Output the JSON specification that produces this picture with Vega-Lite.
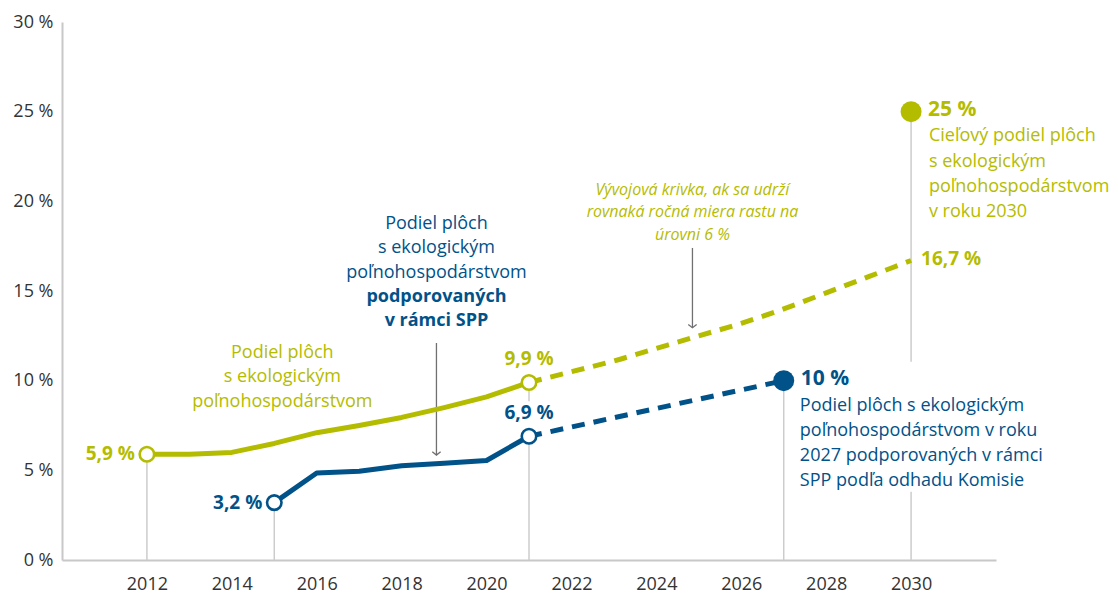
{
  "$schema": "https://vega.github.io/schema/vega-lite/v6.json",
  "width": 934,
  "height": 538,
  "autosize": "none",
  "padding": {"left": 62, "top": 22, "right": 122, "bottom": 36},
  "background": "white",
  "config": {"view": {"stroke": null}, "font": "Open Sans", "text": {"font": "Open Sans"}},
  "datasets": {
    "series": [
      {"series": "eko", "phase": "actual", "year": 2012, "value": 5.9},
      {"series": "eko", "phase": "actual", "year": 2013, "value": 5.9},
      {"series": "eko", "phase": "actual", "year": 2014, "value": 6.0},
      {"series": "eko", "phase": "actual", "year": 2015, "value": 6.5},
      {"series": "eko", "phase": "actual", "year": 2016, "value": 7.1},
      {"series": "eko", "phase": "actual", "year": 2017, "value": 7.5},
      {"series": "eko", "phase": "actual", "year": 2018, "value": 7.95},
      {"series": "eko", "phase": "actual", "year": 2019, "value": 8.5},
      {"series": "eko", "phase": "actual", "year": 2020, "value": 9.1},
      {"series": "eko", "phase": "actual", "year": 2021, "value": 9.9},
      {"series": "eko", "phase": "proj", "year": 2021, "value": 9.9},
      {"series": "eko", "phase": "proj", "year": 2022, "value": 10.5},
      {"series": "eko", "phase": "proj", "year": 2023, "value": 11.1},
      {"series": "eko", "phase": "proj", "year": 2024, "value": 11.8},
      {"series": "eko", "phase": "proj", "year": 2025, "value": 12.5},
      {"series": "eko", "phase": "proj", "year": 2026, "value": 13.2},
      {"series": "eko", "phase": "proj", "year": 2027, "value": 14.0},
      {"series": "eko", "phase": "proj", "year": 2028, "value": 14.9},
      {"series": "eko", "phase": "proj", "year": 2029, "value": 15.8},
      {"series": "eko", "phase": "proj", "year": 2030, "value": 16.7},
      {"series": "spp", "phase": "actual", "year": 2015, "value": 3.2},
      {"series": "spp", "phase": "actual", "year": 2016, "value": 4.85},
      {"series": "spp", "phase": "actual", "year": 2017, "value": 4.95},
      {"series": "spp", "phase": "actual", "year": 2018, "value": 5.25},
      {"series": "spp", "phase": "actual", "year": 2019, "value": 5.4},
      {"series": "spp", "phase": "actual", "year": 2020, "value": 5.55},
      {"series": "spp", "phase": "actual", "year": 2021, "value": 6.9},
      {"series": "spp", "phase": "proj", "year": 2021, "value": 6.9},
      {"series": "spp", "phase": "proj", "year": 2027, "value": 10.0}
    ],
    "rules": [
      {"year": 2012, "value": 0, "value2": 5.9},
      {"year": 2015, "value": 0, "value2": 3.2},
      {"year": 2021, "value": 0, "value2": 6.9},
      {"year": 2021, "value": 8.85, "value2": 9.9},
      {"year": 2027, "value": 0, "value2": 10},
      {"year": 2030, "value": 0, "value2": 3.8},
      {"year": 2030, "value": 11.05, "value2": 25}
    ],
    "arrows": [
      {"year": 2018.82, "value": 5.85, "value2": 12.1},
      {"year": 2024.85, "value": 12.95, "value2": 17.4}
    ],
    "points": [
      {"series": "eko", "year": 2012, "value": 5.9},
      {"series": "eko", "year": 2021, "value": 9.9},
      {"series": "spp", "year": 2015, "value": 3.2},
      {"series": "spp", "year": 2021, "value": 6.9}
    ],
    "targets": [
      {"series": "eko", "year": 2030, "value": 25, "text": "25 %"},
      {"series": "spp", "year": 2027, "value": 10, "text": "10 %"}
    ],
    "labels": [
      {"series": "eko", "year": 2012, "value": 5.9, "text": "5,9 %", "pos": "left"},
      {"series": "spp", "year": 2015, "value": 3.2, "text": "3,2 %", "pos": "left"},
      {"series": "eko", "year": 2021, "value": 9.9, "text": "9,9 %", "pos": "above"},
      {"series": "spp", "year": 2021, "value": 6.9, "text": "6,9 %", "pos": "above"},
      {"series": "eko", "year": 2030, "value": 16.7, "text": "16,7 %", "pos": "right"}
    ],
    "notes": [
      {"series": "eko", "year": 2015.19, "value": 12.05, "style": "center", "text": "Podiel plôch\ns ekologickým\npoľnohospodárstvom"},
      {"series": "spp", "year": 2018.82, "value": 19.24, "style": "center", "text": "Podiel plôch\ns ekologickým\npoľnohospodárstvom"},
      {"series": "spp", "year": 2018.82, "value": 15.17, "style": "centerBold", "text": "podporovaných\nv rámci SPP"},
      {"series": "eko", "year": 2024.85, "value": 21.1, "style": "italic", "text": "Vývojová krivka, ak sa udrží\nrovnaká ročná miera rastu na\núrovni 6 %"},
      {"series": "eko", "year": 2030.42, "value": 24.12, "style": "left", "text": "Cieľový podiel plôch\ns ekologickým\npoľnohospodárstvom\nv roku 2030"},
      {"series": "spp", "year": 2027.38, "value": 9.1, "style": "left", "text": "Podiel plôch s ekologickým\npoľnohospodárstvom v roku\n2027 podporovaných v rámci\nSPP podľa odhadu Komisie"}
    ]
  },
  "encoding": {
    "x": {
      "field": "year", "type": "quantitative",
      "scale": {"domain": [2010, 2032], "nice": false, "zero": false},
      "axis": {"values": [2012, 2014, 2016, 2018, 2020, 2022, 2024, 2026, 2028, 2030], "format": "d", "title": null, "grid": false, "ticks": false, "domainColor": "#c8c8c8", "domainWidth": 2, "labelFontSize": 18, "labelColor": "#333333", "labelPadding": 15, "labelFont": "Open Sans"}
    },
    "y": {
      "field": "value", "type": "quantitative",
      "scale": {"domain": [0, 30], "nice": false},
      "axis": {"values": [0, 5, 10, 15, 20, 25, 30], "labelExpr": "datum.value + ' %'", "title": null, "grid": false, "ticks": false, "domainColor": "#c8c8c8", "domainWidth": 2, "labelFontSize": 18, "labelColor": "#333333", "labelPadding": 9, "labelFont": "Open Sans"}
    }
  },
  "layer": [
    {
      "data": {"name": "rules"},
      "mark": {"type": "rule", "color": "#cccccc", "strokeWidth": 1.5},
      "encoding": {"y2": {"field": "value2"}}
    },
    {
      "data": {"name": "arrows"},
      "mark": {"type": "rule", "color": "#707070", "strokeWidth": 1.3},
      "encoding": {"y2": {"field": "value2"}}
    },
    {
      "data": {"name": "arrows"},
      "mark": {"type": "point", "shape": "M-1,-0.8L0,0L1,-0.8", "size": 70, "filled": false, "stroke": "#707070", "strokeWidth": 1.3, "opacity": 1}
    },
    {
      "data": {"name": "series"},
      "transform": [{"filter": "datum.phase === 'actual'"}],
      "mark": {"type": "line", "strokeWidth": 5, "interpolate": "linear", "strokeJoin": "round"},
      "encoding": {"color": {"field": "series", "type": "nominal", "scale": {"domain": ["eko", "spp"], "range": ["#b4bc00", "#005289"]}, "legend": null}}
    },
    {
      "data": {"name": "series"},
      "transform": [{"filter": "datum.phase === 'proj'"}],
      "mark": {"type": "line", "strokeWidth": 5, "strokeDash": [13, 9], "interpolate": "monotone"},
      "encoding": {"color": {"field": "series", "type": "nominal", "scale": {"domain": ["eko", "spp"], "range": ["#b4bc00", "#005289"]}, "legend": null}}
    },
    {
      "data": {"name": "points"},
      "mark": {"type": "point", "shape": "circle", "size": 210, "filled": true, "fill": "white", "strokeWidth": 2.6, "opacity": 1},
      "encoding": {"stroke": {"field": "series", "type": "nominal", "scale": {"domain": ["eko", "spp"], "range": ["#b4bc00", "#005289"]}, "legend": null}}
    },
    {
      "data": {"name": "targets"},
      "mark": {"type": "point", "shape": "circle", "size": 440, "filled": true, "opacity": 1},
      "encoding": {"color": {"field": "series", "type": "nominal", "scale": {"domain": ["eko", "spp"], "range": ["#b4bc00", "#005289"]}, "legend": null}}
    },
    {
      "data": {"name": "targets"},
      "mark": {"type": "text", "align": "left", "baseline": "middle", "dx": 17, "dy": -2, "fontSize": 21, "fontWeight": "bold"},
      "encoding": {"text": {"field": "text"}, "color": {"field": "series", "type": "nominal", "scale": {"domain": ["eko", "spp"], "range": ["#b4bc00", "#005289"]}, "legend": null}}
    },
    {
      "data": {"name": "labels"},
      "transform": [{"filter": "datum.pos === 'left'"}],
      "mark": {"type": "text", "align": "right", "baseline": "middle", "dx": -12, "fontSize": 19, "fontWeight": "bold"},
      "encoding": {"text": {"field": "text"}, "color": {"field": "series", "type": "nominal", "scale": {"domain": ["eko", "spp"], "range": ["#b4bc00", "#005289"]}, "legend": null}}
    },
    {
      "data": {"name": "labels"},
      "transform": [{"filter": "datum.pos === 'above'"}],
      "mark": {"type": "text", "align": "center", "baseline": "middle", "dy": -23, "fontSize": 19, "fontWeight": "bold"},
      "encoding": {"text": {"field": "text"}, "color": {"field": "series", "type": "nominal", "scale": {"domain": ["eko", "spp"], "range": ["#b4bc00", "#005289"]}, "legend": null}}
    },
    {
      "data": {"name": "labels"},
      "transform": [{"filter": "datum.pos === 'right'"}],
      "mark": {"type": "text", "align": "left", "baseline": "middle", "dx": 10, "dy": -2, "fontSize": 19, "fontWeight": "bold"},
      "encoding": {"text": {"field": "text"}, "color": {"field": "series", "type": "nominal", "scale": {"domain": ["eko", "spp"], "range": ["#b4bc00", "#005289"]}, "legend": null}}
    },
    {
      "data": {"name": "notes"},
      "transform": [{"filter": "datum.style === 'center'"}],
      "mark": {"type": "text", "align": "center", "baseline": "top", "fontSize": 18, "lineHeight": 24.5, "lineBreak": "\n"},
      "encoding": {"text": {"field": "text"}, "color": {"field": "series", "type": "nominal", "scale": {"domain": ["eko", "spp"], "range": ["#b4bc00", "#005289"]}, "legend": null}}
    },
    {
      "data": {"name": "notes"},
      "transform": [{"filter": "datum.style === 'centerBold'"}],
      "mark": {"type": "text", "align": "center", "baseline": "top", "fontSize": 18, "fontWeight": "bold", "lineHeight": 24.5, "lineBreak": "\n"},
      "encoding": {"text": {"field": "text"}, "color": {"field": "series", "type": "nominal", "scale": {"domain": ["eko", "spp"], "range": ["#b4bc00", "#005289"]}, "legend": null}}
    },
    {
      "data": {"name": "notes"},
      "transform": [{"filter": "datum.style === 'italic'"}],
      "mark": {"type": "text", "align": "center", "baseline": "top", "fontSize": 16, "fontStyle": "italic", "lineHeight": 22.5, "lineBreak": "\n"},
      "encoding": {"text": {"field": "text"}, "color": {"field": "series", "type": "nominal", "scale": {"domain": ["eko", "spp"], "range": ["#b4bc00", "#005289"]}, "legend": null}}
    },
    {
      "data": {"name": "notes"},
      "transform": [{"filter": "datum.style === 'left'"}],
      "mark": {"type": "text", "align": "left", "baseline": "top", "fontSize": 18, "lineHeight": 25.2, "lineBreak": "\n"},
      "encoding": {"text": {"field": "text"}, "color": {"field": "series", "type": "nominal", "scale": {"domain": ["eko", "spp"], "range": ["#b4bc00", "#005289"]}, "legend": null}}
    }
  ]
}
